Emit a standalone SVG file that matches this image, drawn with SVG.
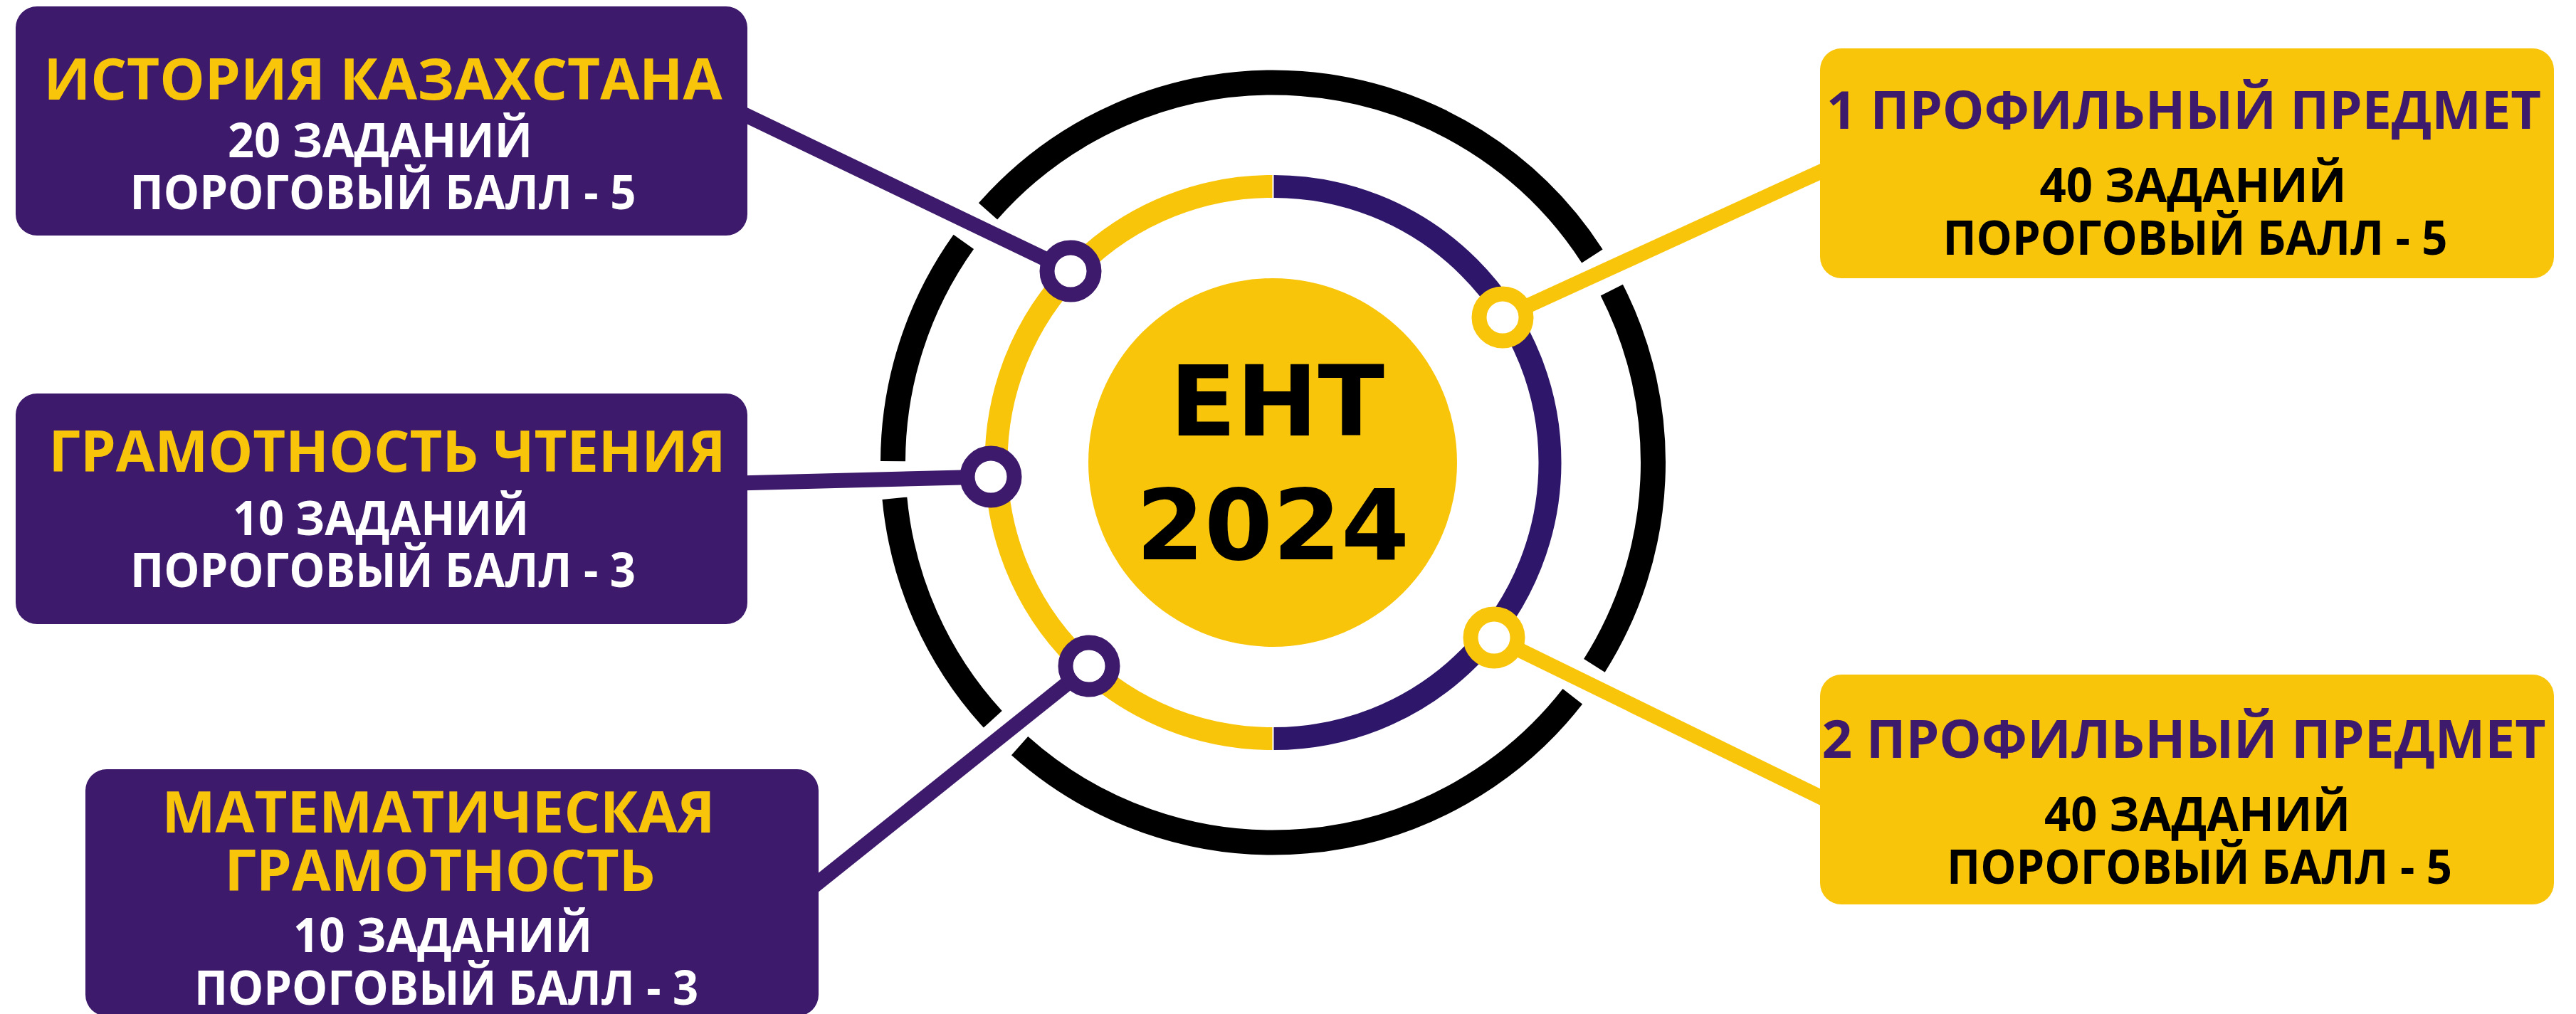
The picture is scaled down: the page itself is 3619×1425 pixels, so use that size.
<svg xmlns="http://www.w3.org/2000/svg" width="3619" height="1425" viewBox="0 0 3619 1425">
<style>
.bg{fill:#ffffff}
.boxp{fill:#3d1a6b}
.boxy{fill:#f9c50a}
.t{font-family:"Open Sans","Liberation Sans",sans-serif;font-weight:700;text-anchor:middle}
.ty{fill:#f9c50a}
.tw{fill:#ffffff}
.tp{fill:#3d1a6b}
.tb{fill:#000000}
.f1{font-size:80px}
.f4{font-size:74px}
.f2{font-size:66px}
.lp{stroke:#3d1a6b;stroke-width:21;fill:none}
.ly{stroke:#f9c50a;stroke-width:21;fill:none}
.outer{stroke:#000000;stroke-width:35;fill:none}
.np{fill:#ffffff;stroke:#3d1a6b;stroke-width:21}
.ny{fill:#ffffff;stroke:#f9c50a;stroke-width:21}
.center{font-family:"DejaVu Sans","Liberation Sans",sans-serif;font-weight:700;text-anchor:middle;fill:#000000}
</style>
<rect class="bg" x="0" y="0" width="3619" height="1425"/>

<g id="ring-outer">
<path class="outer" d="M 1254.5 648.1 A 534 534 0 0 1 1353.8 339.9"/>
<path class="outer" d="M 1388.0 296.9 A 534 534 0 0 1 2236.9 359.9"/>
<path class="outer" d="M 2264.3 407.6 A 534 534 0 0 1 2239.9 935.3"/>
<path class="outer" d="M 2209.3 978.8 A 534 534 0 0 1 1432.6 1048.1"/>
<path class="outer" d="M 1394.8 1010.8 A 534 534 0 0 1 1256.9 700.3"/>
</g>

<g id="ring-inner">
<path d="M 1787.5 262 A 388 388 0 0 0 1787.5 1038" fill="none" stroke="#f9c50a" stroke-width="32"/>
<path d="M 1789.5 262 A 388 388 0 0 1 1789.5 1038" fill="none" stroke="#2e176b" stroke-width="32"/>
</g>

<g id="center">
<circle cx="1788" cy="650" r="259" fill="#f9c50a"/>
<text class="center" x="1794" y="612" font-size="137">ЕНТ</text>
<text class="center" x="1788" y="786" font-size="138">2024</text>
</g>

<g id="connectors">
<line class="lp" x1="1000" y1="139" x2="1504" y2="381"/>
<line class="lp" x1="1000" y1="680" x2="1392" y2="670"/>
<line class="lp" x1="1100" y1="1280" x2="1530" y2="936"/>
<line class="ly" x1="2111" y1="446" x2="2600" y2="222"/>
<line class="ly" x1="2099" y1="896" x2="2600" y2="1141"/>
</g>

<g id="node-points">
<circle class="np" cx="1504" cy="381" r="33"/>
<circle class="np" cx="1392" cy="670" r="33"/>
<circle class="np" cx="1530" cy="936" r="33"/>
<circle class="ny" cx="2111" cy="446" r="33"/>
<circle class="ny" cx="2099" cy="896" r="33"/>
</g>

<g id="box-history">
<rect class="boxp" x="22" y="9" width="1028" height="322" rx="30"/>
<text class="t ty f1" x="538" y="140" textLength="953" lengthAdjust="spacingAndGlyphs">ИСТОРИЯ КАЗАХСТАНА</text>
<text class="t tw f2" x="534" y="221" textLength="428" lengthAdjust="spacingAndGlyphs">20 ЗАДАНИЙ</text>
<text class="t tw f2" x="538" y="294" textLength="711" lengthAdjust="spacingAndGlyphs">ПОРОГОВЫЙ БАЛЛ - 5</text>
</g>

<g id="box-reading">
<rect class="boxp" x="22" y="553" width="1028" height="324" rx="30"/>
<text class="t ty f1" x="544" y="663" textLength="951" lengthAdjust="spacingAndGlyphs">ГРАМОТНОСТЬ ЧТЕНИЯ</text>
<text class="t tw f2" x="535" y="752" textLength="416" lengthAdjust="spacingAndGlyphs">10 ЗАДАНИЙ</text>
<text class="t tw f2" x="538" y="825" textLength="710" lengthAdjust="spacingAndGlyphs">ПОРОГОВЫЙ БАЛЛ - 3</text>
</g>

<g id="box-math">
<rect class="boxp" x="120" y="1081" width="1030" height="347" rx="30"/>
<text class="t ty f1" x="616" y="1170" textLength="777" lengthAdjust="spacingAndGlyphs">МАТЕМАТИЧЕСКАЯ</text>
<text class="t ty f1" x="618" y="1252" textLength="605" lengthAdjust="spacingAndGlyphs">ГРАМОТНОСТЬ</text>
<text class="t tw f2" x="622" y="1338" textLength="420" lengthAdjust="spacingAndGlyphs">10 ЗАДАНИЙ</text>
<text class="t tw f2" x="627" y="1412" textLength="708" lengthAdjust="spacingAndGlyphs">ПОРОГОВЫЙ БАЛЛ - 3</text>
</g>

<g id="box-profile1">
<rect class="boxy" x="2557" y="68" width="1031" height="323" rx="30"/>
<text class="t tp f4" x="3068" y="181" textLength="1004" lengthAdjust="spacingAndGlyphs">1 ПРОФИЛЬНЫЙ ПРЕДМЕТ</text>
<text class="t tb f2" x="3081" y="284" textLength="431" lengthAdjust="spacingAndGlyphs">40 ЗАДАНИЙ</text>
<text class="t tb f2" x="3084" y="358" textLength="709" lengthAdjust="spacingAndGlyphs">ПОРОГОВЫЙ БАЛЛ - 5</text>
</g>

<g id="box-profile2">
<rect class="boxy" x="2557" y="948" width="1031" height="323" rx="30"/>
<text class="t tp f4" x="3068" y="1065" textLength="1017" lengthAdjust="spacingAndGlyphs">2 ПРОФИЛЬНЫЙ ПРЕДМЕТ</text>
<text class="t tb f2" x="3087" y="1168" textLength="430" lengthAdjust="spacingAndGlyphs">40 ЗАДАНИЙ</text>
<text class="t tb f2" x="3090" y="1242" textLength="710" lengthAdjust="spacingAndGlyphs">ПОРОГОВЫЙ БАЛЛ - 5</text>
</g>
</svg>
